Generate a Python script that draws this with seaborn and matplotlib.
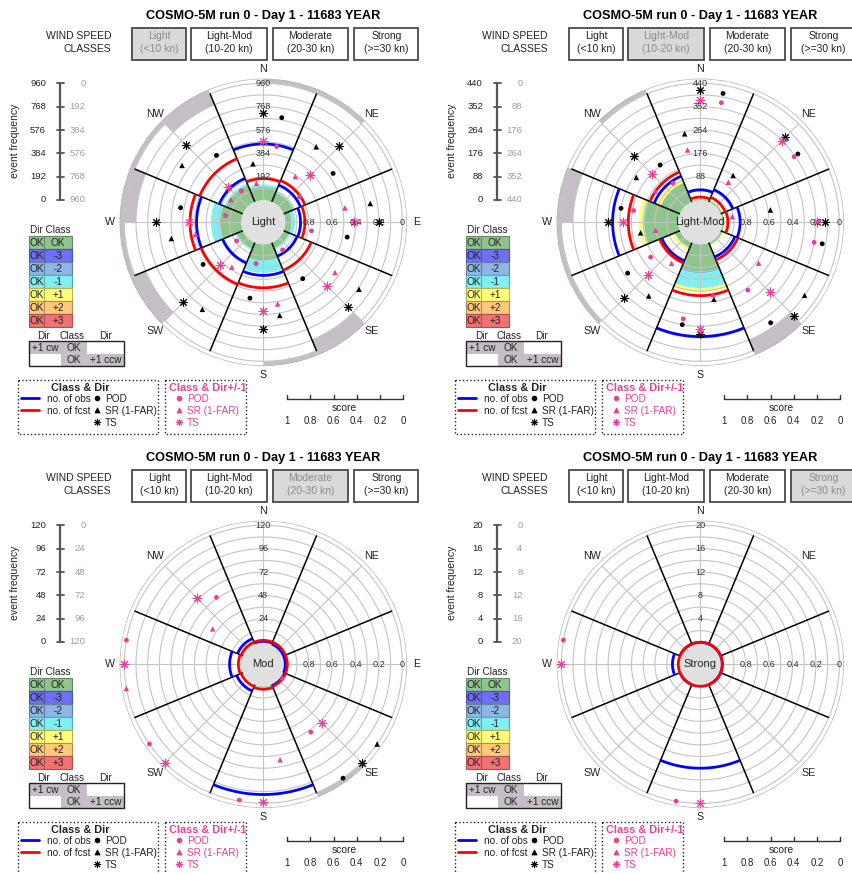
import numpy as np
import matplotlib
matplotlib.use("Agg")
import matplotlib.pyplot as plt
import matplotlib.colors as mcolors
import seaborn as sns
from matplotlib.patches import Rectangle

sns.set_theme(style="white")
plt.rcParams["font.family"] = ["Liberation Sans", "DejaVu Sans"]

nan = np.nan
W, H = 852, 874

title = "COSMO-5M run 0 - Day 1 - 11683 YEAR"
directions = ["N", "NE", "E", "SE", "S", "SW", "W", "NW"]
class_names = ["Light", "Light-Mod", "Moderate", "Strong"]
class_ranges = ["(<10 kn)", "(10-20 kn)", "(20-30 kn)", "(>=30 kn)"]
center_labels = ["Light", "Light-Mod", "Mod", "Strong"]
freq_max = [960, 440, 120, 20]
dir_class_rows = ["OK", "-3", "-2", "-1", "+1", "+2", "+3"]

# ---- Light (<10 kn), directions N..NW
light_obs = [462, 150, 125, 120, 255, 180, 367, 210]
light_fcst = [178, 190, 161, 245, 357, 370, 421, 384]
light_ok = [112, 85, 52, 50, 135, 55, 175, 150]
light_m1 = [18, 15, 28, 12, 100, 12, 74, 16]
light_pod = [0.28, 0.46, 0.46, 0.60, 0.53, 0.56, 0.47, 0.49]
light_sr = [0.68, 0.40, 0.26, 0.19, 0.38, 0.28, 0.39, 0.34]
light_ts = [0.25, 0.27, 0.20, 0.17, 0.28, 0.22, 0.27, 0.25]
light_pod1 = [0.53, 0.81, 0.77, 0.90, 0.83, 0.91, 0.86, 0.86]
light_sr1 = [0.85, 0.71, 0.48, 0.44, 0.48, 0.72, 0.60, 0.85]
light_ts1 = [0.49, 0.62, 0.41, 0.42, 0.43, 0.67, 0.55, 0.76]
light_cw = [0.04, 0, 0, 0.14, 0, 0.14, 0.14, 0.14]
light_ccw = [0, 0.04, 0, 0, 0.04, 0, 0.04, 0.04]

# ---- Light-Mod (10-20 kn)
lmod_obs = [39, 50, 67, 58, 347, 74, 247, 105]
lmod_fcst = [12, 19, 21, 70, 193, 82, 188, 122]
lmod_ok = [4, 6, 6, 8, 103, 20, 128, 79]
lmod_m2 = [0, 0, 0, 0, 6, 0, 0, 0]
lmod_m1 = [0, 2, 2, 2, 56, 3, 6, 0]
lmod_p1 = [2, 3, 3, 3, 17, 10, 15, 18]
lmod_pod = [0.07, 0.17, 0.13, 0.14, 0.30, 0.43, 0.50, 0.59]
lmod_sr = [0.42, 0.70, 0.58, 0.10, 0.52, 0.42, 0.67, 0.52]
lmod_ts = [0.06, 0.16, 0.12, 0.06, 0.23, 0.27, 0.40, 0.39]
lmod_pod1 = [0.15, 0.21, 0.20, 0.48, 0.35, 0.67, 0.61, 0.78]
lmod_sr1 = [0.56, 0.77, 0.91, 0.58, 0.56, 0.76, 0.80, 0.72]
lmod_ts1 = [0.14, 0.20, 0.19, 0.35, 0.28, 0.55, 0.53, 0.60]
lmod_cw = [0, 0, 0, 0.14, 0, 0.04, 0.14, 0.04]
lmod_ccw = [0, 0, 0, 0, 0, 0, 0.04, 0]

# ---- Moderate (20-30 kn)
mod_obs = [1, 0, 0, 1, 111, 7, 12, 6]
mod_fcst = [2, 2, 2, 2, 3, 2, 3, 2]
mod_ok = [0, 0, 0, 0, 1, 0, 1, 2]
mod_m1 = [0, 0, 0, 0, 2, 0, 0, 0]
mod_p1 = [0, 0, 0, 0, 0, 0, 0, 1]
mod_pod = [nan, nan, nan, 0.0, nan, nan, nan, nan]
mod_sr = [nan, nan, nan, 0.0, nan, nan, nan, nan]
mod_ts = [nan, nan, nan, 0.0, nan, nan, nan, nan]
mod_pod1 = [nan, nan, nan, 0.48, 0.01, 0.0, 0.0, 0.49]
mod_sr1 = [nan, nan, nan, 0.99, 0.36, nan, 0.0, 0.66]
mod_ts1 = [nan, nan, nan, 0.48, 0.01, 0.0, 0.0, 0.39]
mod_cw = [0, 0, 0, 0.04, 0, 0, 0, 0]
mod_ccw = [0, 0, 0, 0, 0, 0, 0, 0]

# ---- Strong (>=30 kn)
strong_obs = [0, 0, 0, 0, 14, 0, 1, 0]
strong_fcst = [0, 0, 0, 0, 0, 0, 0, 0]
strong_pod1 = [nan, nan, nan, nan, 0.0, nan, 0.0, nan]
strong_ts1 = [nan, nan, nan, nan, 0.0, nan, 0.0, nan]

zeros = [0] * 8
nans = [nan] * 8

band_keys = ["ok", "m3", "m2", "m1", "p1", "p2", "p3"]
band_colors = ["#8fc48f", "#6f6ff5", "#8db6e4", "#80eff2", "#ffff7a", "#ffc87a", "#f27272"]
pink = "#e8409a"
grey_band = "#c6bec6"

panels = [
    dict(obs=light_obs, fcst=light_fcst,
         bands=dict(ok=light_ok, m1=light_m1),
         pod=light_pod, sr=light_sr, ts=light_ts,
         pod1=light_pod1, sr1=light_sr1, ts1=light_ts1,
         cw=light_cw, ccw=light_ccw),
    dict(obs=lmod_obs, fcst=lmod_fcst,
         bands=dict(ok=lmod_ok, m2=lmod_m2, m1=lmod_m1, p1=lmod_p1),
         pod=lmod_pod, sr=lmod_sr, ts=lmod_ts,
         pod1=lmod_pod1, sr1=lmod_sr1, ts1=lmod_ts1,
         cw=lmod_cw, ccw=lmod_ccw),
    dict(obs=mod_obs, fcst=mod_fcst,
         bands=dict(ok=mod_ok, m1=mod_m1, p1=mod_p1),
         pod=mod_pod, sr=mod_sr, ts=mod_ts,
         pod1=mod_pod1, sr1=mod_sr1, ts1=mod_ts1,
         cw=mod_cw, ccw=mod_ccw),
    dict(obs=strong_obs, fcst=strong_fcst, bands=dict(),
         pod=nans, sr=nans, ts=nans,
         pod1=strong_pod1, sr1=nans, ts1=strong_ts1,
         cw=zeros, ccw=zeros),
]
offsets = [(0, 0), (437, 0), (0, 442), (437, 442)]

R_IN = 22 / 117.0   # radius of the centre disc, in score/frequency units
U_OUT = 1.04
ASTER = (8, 2, 0)

fig = plt.figure(figsize=(W / 100, H / 100), dpi=100)
bg = fig.add_axes([0, 0, 1, 1])
bg.set_xlim(0, W)
bg.set_ylim(H, 0)
bg.axis("off")


def darker(c, f=0.7):
    r, g, b = mcolors.to_rgb(c)
    return (r * f, g * f, b * f)


def txt(x, y, s, **kw):
    kw.setdefault("fontsize", 7.2)
    kw.setdefault("ha", "center")
    kw.setdefault("va", "center")
    kw.setdefault("color", "#222222")
    bg.text(x, y, s, **kw)


def draw_side(ox, oy, p):
    txt(ox + 263, oy + 15.5, title, fontsize=9.2, fontweight="bold", color="black")
    txt(ox + 111, oy + 36, "WIND SPEED", ha="right", fontsize=7.5)
    txt(ox + 111, oy + 49.5, "CLASSES", ha="right", fontsize=7.5)
    lefts = [132.3, 190.7, 272.7, 354.3]
    widths = [53.4, 76, 75.6, 64]
    for i, (name, rng) in enumerate(zip(class_names, class_ranges)):
        sel = i == p
        bg.add_patch(Rectangle((ox + lefts[i], oy + 27.7), widths[i], 32.3,
                               facecolor="#d9d9d9" if sel else "white",
                               edgecolor="#4a4a4a", lw=1.3))
        col = "#8c8c8c" if sel else "#222222"
        txt(ox + lefts[i] + widths[i] / 2, oy + 36, name, color=col, fontsize=7.5)
        txt(ox + lefts[i] + widths[i] / 2, oy + 49.5, rng, color=col, fontsize=7.5)

    # frequency axis
    fmax = freq_max[p]
    bg.plot([ox + 60, ox + 60], [oy + 83.3, oy + 200], color="#555555", lw=1.6)
    for k in range(6):
        y = oy + 200 - k * 23.33
        bg.plot([ox + 57, ox + 63.5], [y, y], color="#555555", lw=1.3)
        txt(ox + 46, y, f"{fmax * k // 5}", ha="right", fontsize=6.8)
        txt(ox + 85.5, y, f"{fmax * (5 - k) // 5}", ha="right", fontsize=6.8, color="#a898a8")
    txt(ox + 15, oy + 141, "event frequency", rotation=90, fontsize=7.5)

    # dir class colour table
    txt(ox + 50, oy + 230, "Dir Class", fontsize=7.2)
    for i, (lab, c) in enumerate(zip(dir_class_rows, band_colors)):
        y = oy + 236 + 13 * i
        bg.add_patch(Rectangle((ox + 29.3, y), 14.7, 13, facecolor=c, edgecolor=darker(c), lw=0.8))
        bg.add_patch(Rectangle((ox + 44, y), 27.7, 13, facecolor=c, edgecolor=darker(c), lw=0.8))
        txt(ox + 36.7, y + 6.7, "OK", fontsize=7.2)
        txt(ox + 58, y + 6.7, lab, fontsize=7.2)

    # +1 cw / ccw table
    txt(ox + 44, oy + 336, "Dir", fontsize=7.2)
    txt(ox + 72, oy + 336, "Class", fontsize=7.2)
    txt(ox + 105, oy + 336, "Dir", fontsize=7.2)
    cells = [(29.3, 341.3, 31.4, "+1 cw"), (60.7, 341.3, 26, "OK"),
             (60.7, 353.6, 26, "OK"), (86.7, 353.6, 37.3, "+1 ccw")]
    for x, y, w, lab in cells:
        bg.add_patch(Rectangle((ox + x, oy + y), w, 12.4, facecolor=grey_band, edgecolor="none"))
        txt(ox + x + w / 2, oy + y + 6.5, lab, fontsize=7.2)
    bg.add_patch(Rectangle((ox + 29.3, oy + 341.3), 94.7, 24.7, fill=False, edgecolor="#222222", lw=1))

    # legends
    bg.add_patch(Rectangle((ox + 17.7, oy + 380), 140.6, 53.7, fill=False, ls=":", edgecolor="#222222", lw=1))
    txt(ox + 80, oy + 388, "Class & Dir", fontweight="bold", fontsize=7.8)
    bg.plot([ox + 21, ox + 39], [oy + 398, oy + 398], color="#0000ff", lw=2)
    bg.plot([ox + 21, ox + 39], [oy + 410, oy + 410], color="#ff0000", lw=2)
    txt(ox + 47, oy + 399, "no. of obs", ha="left")
    txt(ox + 47, oy + 411, "no. of fcst", ha="left")
    for y, m, s, lab in [(398, "o", 11, "POD"), (409.5, "^", 12, "SR (1-FAR)"), (422, ASTER, 22, "TS")]:
        bg.scatter([ox + 97], [oy + y], marker=m, s=s, color="black", linewidths=0.7)
        txt(ox + 105, oy + y + 1, lab, ha="left")
    bg.add_patch(Rectangle((ox + 165, oy + 380), 80.7, 53.7, fill=False, ls=":", edgecolor="#222222", lw=1))
    txt(ox + 169.3, oy + 388, "Class & Dir+/-1", ha="left", fontweight="bold", fontsize=7.8, color=pink)
    for y, m, s, lab in [(398, "o", 11, "POD"), (409.5, "^", 12, "SR (1-FAR)"), (422, ASTER, 22, "TS")]:
        bg.scatter([ox + 179], [oy + y], marker=m, s=s, color=pink, linewidths=0.7)
        txt(ox + 186.7, oy + y + 1, lab, ha="left", color=pink)

    # score scale
    bg.plot([ox + 287, ox + 403.3], [oy + 398.7, oy + 398.7], color="#333333", lw=1)
    for k in range(6):
        x = ox + 287 + k * 23.27
        bg.plot([x, x], [oy + 395, oy + 398.7], color="#333333", lw=1)
        txt(x, oy + 421, f"{1 - k * 0.2:g}", fontsize=6.9)
    txt(ox + 344, oy + 408, "score", fontsize=7.4)


def draw_polar(ox, oy, p, d):
    cx, cy = ox + 263.3, oy + 222.3
    rad = (U_OUT + R_IN) * 117
    ax = fig.add_axes([(cx - rad) / W, 1 - (cy + rad) / H, 2 * rad / W, 2 * rad / H],
                      projection="polar")
    ax.set_theta_zero_location("N")
    ax.set_theta_direction(-1)
    ax.grid(False)
    ax.spines["polar"].set_visible(False)
    ax.patch.set_alpha(0)
    fmax = freq_max[p]
    centers = np.deg2rad(np.arange(8) * 45.0)
    sec = np.pi / 4

    # stacked direction/class wedges
    base = np.zeros(8)
    for key, col in zip(band_keys, band_colors):
        vals = np.array(d["bands"].get(key, zeros), dtype=float) / fmax
        if vals.sum() > 0:
            ax.bar(centers, vals, width=sec, bottom=R_IN + base, color=col,
                   edgecolor="none", align="center", zorder=1)
        base += vals

    # outer grey bands (+1 cw / +1 ccw)
    cw = np.array(d["cw"], dtype=float)
    ccw = np.array(d["ccw"], dtype=float)
    top = R_IN + U_OUT
    ax.bar(centers + sec / 4, cw, width=sec / 2, bottom=top - cw, color=grey_band,
           edgecolor="none", zorder=1)
    ax.bar(centers - sec / 4, ccw, width=sec / 2, bottom=top - ccw, color=grey_band,
           edgecolor="none", zorder=1)

    th = np.linspace(0, 2 * np.pi, 361)
    for u in np.arange(1, 11) / 10:
        ax.plot(th, np.full_like(th, R_IN + u), color="#c4c4c4", lw=0.8, zorder=2)
    ax.plot(th, np.full_like(th, top), color="#b8b0b8", lw=1.0, zorder=2)
    for a in centers:
        ax.plot([a, a], [R_IN, R_IN + 1.0], color="#c4c4c4", lw=0.8, zorder=2)
    for a in centers + sec / 2:
        ax.plot([a, a], [R_IN, R_IN + 1.0], color="black", lw=1.1, zorder=3)
    ax.bar(0, R_IN, width=2 * np.pi, bottom=0, color="#e0e0e0", edgecolor="none", zorder=3)

    # obs / fcst arcs
    for vals, col in [(d["obs"], "#0000ff"), (d["fcst"], "#ff0000")]:
        for c, v in zip(centers, vals):
            t = np.linspace(c - sec / 2, c + sec / 2, 40)
            ax.plot(t, np.full_like(t, R_IN + v / fmax), color=col, lw=2.0,
                    solid_capstyle="butt", zorder=4)

    # scores
    off = np.deg2rad(10)
    for key, shift, m, s, col in [("pod", off, "o", 12, "black"), ("sr", -off, "^", 16, "black"),
                                  ("ts", 0, ASTER, 30, "black"), ("pod1", off, "o", 12, pink),
                                  ("sr1", -off, "^", 16, pink), ("ts1", 0, ASTER, 40, pink)]:
        score = np.array(d[key], dtype=float)
        ok = ~np.isnan(score)
        if ok.any():
            sns.scatterplot(x=(centers + shift)[ok], y=R_IN + 1 - score[ok], ax=ax, marker=m, s=s,
                            color=col, edgecolor=col if m == ASTER else "none",
                            linewidth=0.75 if m == ASTER else 0, legend=False, zorder=5, clip_on=False)

    ax.set_xticks([])
    ax.set_yticks([])
    ax.set_xlabel("")
    ax.set_ylabel("")
    ax.set_ylim(0, top)

    for k in range(1, 6):
        ax.text(0, R_IN + k / 5, f"{fmax * k // 5}", ha="center", va="center",
                fontsize=6.6, color="#333333", zorder=6)
        ax.text(np.pi / 2, R_IN + k / 5, f"{1 - k * 0.2:g}", ha="center", va="center",
                fontsize=6.6, color="#333333", zorder=6)
    for c, lab in zip(centers, directions):
        if cx + 153 * np.sin(c) > W - 6:
            continue  # falls outside the canvas, as in the original
        ax.text(c, R_IN + 1.12, lab, ha="center", va="center", fontsize=7.7,
                color="#222222", clip_on=False)
    ax.text(0, 0, center_labels[p], ha="center", va="center", fontsize=8,
            color="#222222", zorder=6)


for p, (ox, oy) in enumerate(offsets):
    draw_side(ox, oy, p)
for p, (ox, oy) in enumerate(offsets):
    draw_polar(ox, oy, p, panels[p])

fig.savefig("out.png", dpi=100)
